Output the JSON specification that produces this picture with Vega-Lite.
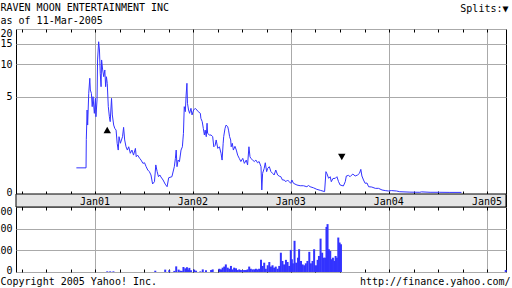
{
  "$schema": "https://vega.github.io/schema/vega-lite/v6.json",
  "width": 490,
  "height": 243,
  "autosize": {"type": "none"},
  "padding": {"left": 16, "top": 29, "right": 6, "bottom": 16},
  "background": "white",
  "config": {
    "view": {"stroke": "black", "strokeWidth": 1},
    "font": "DejaVu Sans Mono",
    "axis": {
      "labelFont": "DejaVu Sans Mono",
      "labelFontSize": 10,
      "labelColor": "black",
      "titleFont": "DejaVu Sans Mono",
      "titleFontSize": 10,
      "titleFontWeight": "normal",
      "titleColor": "black",
      "gridColor": "#aaaaaa",
      "gridOpacity": 1,
      "tickColor": "black",
      "domain": false,
      "labelOverlap": false
    }
  },
  "datasets": {
    "price": [
      {"date": "2000-10-22", "price": 0.62},
      {"date": "2000-11-27", "price": 0.62},
      {"date": "2000-11-28", "price": 1.74},
      {"date": "2000-12-01", "price": 3.71},
      {"date": "2000-12-03", "price": 2.57},
      {"date": "2000-12-07", "price": 5.41},
      {"date": "2000-12-11", "price": 7.46},
      {"date": "2000-12-13", "price": 5.81},
      {"date": "2000-12-17", "price": 5.4},
      {"date": "2000-12-20", "price": 4.01},
      {"date": "2000-12-23", "price": 5.02},
      {"date": "2000-12-28", "price": 3.43},
      {"date": "2001-01-01", "price": 4.84},
      {"date": "2001-01-03", "price": 3.16},
      {"date": "2001-01-07", "price": 4.67},
      {"date": "2001-01-09", "price": 10.86},
      {"date": "2001-01-13", "price": 15.6},
      {"date": "2001-01-16", "price": 13.25},
      {"date": "2001-01-19", "price": 8.27},
      {"date": "2001-01-22", "price": 6.24},
      {"date": "2001-01-24", "price": 10.86},
      {"date": "2001-01-28", "price": 8.86},
      {"date": "2001-02-01", "price": 7.71},
      {"date": "2001-02-05", "price": 8.86},
      {"date": "2001-02-08", "price": 6.24},
      {"date": "2001-02-11", "price": 7.7},
      {"date": "2001-02-14", "price": 6.71},
      {"date": "2001-02-18", "price": 4.01},
      {"date": "2001-02-22", "price": 3.16},
      {"date": "2001-02-25", "price": 2.8},
      {"date": "2001-03-02", "price": 4.84},
      {"date": "2001-03-05", "price": 3.3},
      {"date": "2001-03-10", "price": 2.57},
      {"date": "2001-03-14", "price": 2.36},
      {"date": "2001-03-19", "price": 2.25},
      {"date": "2001-03-23", "price": 1.55},
      {"date": "2001-03-27", "price": 1.25},
      {"date": "2001-03-30", "price": 1.88},
      {"date": "2001-04-04", "price": 1.55},
      {"date": "2001-04-08", "price": 1.71},
      {"date": "2001-04-12", "price": 1.88},
      {"date": "2001-04-16", "price": 2.42},
      {"date": "2001-04-20", "price": 1.71},
      {"date": "2001-04-25", "price": 1.39},
      {"date": "2001-04-30", "price": 1.25},
      {"date": "2001-05-05", "price": 1.39},
      {"date": "2001-05-11", "price": 1.12},
      {"date": "2001-05-17", "price": 1.25},
      {"date": "2001-05-23", "price": 1.05},
      {"date": "2001-05-30", "price": 1.32},
      {"date": "2001-06-02", "price": 0.99},
      {"date": "2001-06-07", "price": 1.05},
      {"date": "2001-06-15", "price": 0.93},
      {"date": "2001-06-20", "price": 0.87},
      {"date": "2001-06-27", "price": 0.76},
      {"date": "2001-07-03", "price": 0.78},
      {"date": "2001-07-09", "price": 0.655},
      {"date": "2001-07-15", "price": 0.557},
      {"date": "2001-07-21", "price": 0.51},
      {"date": "2001-07-27", "price": 0.42},
      {"date": "2001-08-02", "price": 0.203},
      {"date": "2001-08-09", "price": 0.255},
      {"date": "2001-08-14", "price": 0.71},
      {"date": "2001-08-19", "price": 0.51},
      {"date": "2001-08-24", "price": 0.376},
      {"date": "2001-08-29", "price": 0.42},
      {"date": "2001-09-02", "price": 0.37},
      {"date": "2001-09-10", "price": 0.295},
      {"date": "2001-09-18", "price": 0.2},
      {"date": "2001-09-25", "price": 0.144},
      {"date": "2001-10-01", "price": 0.35},
      {"date": "2001-10-13", "price": 0.376},
      {"date": "2001-10-22", "price": 0.655},
      {"date": "2001-10-26", "price": 0.93},
      {"date": "2001-10-29", "price": 1.25},
      {"date": "2001-11-01", "price": 0.655},
      {"date": "2001-11-05", "price": 0.87},
      {"date": "2001-11-10", "price": 0.815},
      {"date": "2001-11-16", "price": 1.25},
      {"date": "2001-11-21", "price": 1.39},
      {"date": "2001-11-23", "price": 1.71},
      {"date": "2001-11-25", "price": 2.06},
      {"date": "2001-11-28", "price": 4.01},
      {"date": "2001-12-02", "price": 3.57},
      {"date": "2001-12-05", "price": 5.21},
      {"date": "2001-12-08", "price": 6.71},
      {"date": "2001-12-10", "price": 4.33},
      {"date": "2001-12-14", "price": 3.71},
      {"date": "2001-12-18", "price": 3.43},
      {"date": "2001-12-23", "price": 3.86},
      {"date": "2001-12-27", "price": 3.3},
      {"date": "2002-01-02", "price": 3.71},
      {"date": "2002-01-08", "price": 3.86},
      {"date": "2002-01-14", "price": 3.71},
      {"date": "2002-01-19", "price": 3.57},
      {"date": "2002-01-27", "price": 3.43},
      {"date": "2002-01-29", "price": 3.04},
      {"date": "2002-02-03", "price": 2.8},
      {"date": "2002-02-07", "price": 2.36},
      {"date": "2002-02-11", "price": 1.97},
      {"date": "2002-02-14", "price": 2.25},
      {"date": "2002-02-18", "price": 1.88},
      {"date": "2002-02-21", "price": 2.69},
      {"date": "2002-02-23", "price": 2.06},
      {"date": "2002-03-02", "price": 1.97},
      {"date": "2002-03-08", "price": 1.97},
      {"date": "2002-03-14", "price": 1.88},
      {"date": "2002-03-18", "price": 1.39},
      {"date": "2002-03-23", "price": 1.45},
      {"date": "2002-03-27", "price": 1.71},
      {"date": "2002-04-02", "price": 1.32},
      {"date": "2002-04-08", "price": 1.39},
      {"date": "2002-04-14", "price": 1.12},
      {"date": "2002-04-18", "price": 0.87},
      {"date": "2002-04-22", "price": 1.55},
      {"date": "2002-04-24", "price": 1.88},
      {"date": "2002-04-29", "price": 2.36},
      {"date": "2002-05-03", "price": 2.57},
      {"date": "2002-05-09", "price": 2.46},
      {"date": "2002-05-12", "price": 2.25},
      {"date": "2002-05-16", "price": 1.88},
      {"date": "2002-05-20", "price": 1.71},
      {"date": "2002-05-22", "price": 1.39},
      {"date": "2002-05-26", "price": 1.55},
      {"date": "2002-05-30", "price": 1.25},
      {"date": "2002-06-05", "price": 1.41},
      {"date": "2002-06-10", "price": 1.25},
      {"date": "2002-06-15", "price": 1.05},
      {"date": "2002-06-21", "price": 0.93},
      {"date": "2002-06-27", "price": 0.82},
      {"date": "2002-07-04", "price": 0.93},
      {"date": "2002-07-10", "price": 0.76},
      {"date": "2002-07-17", "price": 0.87},
      {"date": "2002-07-22", "price": 0.71},
      {"date": "2002-07-27", "price": 1.39},
      {"date": "2002-07-31", "price": 0.99},
      {"date": "2002-08-03", "price": 0.93},
      {"date": "2002-08-10", "price": 0.87},
      {"date": "2002-08-16", "price": 0.82},
      {"date": "2002-08-22", "price": 0.87},
      {"date": "2002-08-28", "price": 0.78},
      {"date": "2002-09-03", "price": 0.82},
      {"date": "2002-09-10", "price": 0.655},
      {"date": "2002-09-13", "price": 0.077},
      {"date": "2002-09-16", "price": 0.465},
      {"date": "2002-09-22", "price": 0.607},
      {"date": "2002-09-26", "price": 0.78},
      {"date": "2002-10-01", "price": 0.51},
      {"date": "2002-10-05", "price": 0.607},
      {"date": "2002-10-11", "price": 0.655},
      {"date": "2002-10-17", "price": 0.51},
      {"date": "2002-10-23", "price": 0.465},
      {"date": "2002-10-29", "price": 0.42},
      {"date": "2002-11-04", "price": 0.557},
      {"date": "2002-11-11", "price": 0.42},
      {"date": "2002-11-17", "price": 0.39},
      {"date": "2002-11-23", "price": 0.376},
      {"date": "2002-11-29", "price": 0.295},
      {"date": "2002-12-05", "price": 0.295},
      {"date": "2002-12-12", "price": 0.255},
      {"date": "2002-12-18", "price": 0.295},
      {"date": "2002-12-24", "price": 0.255},
      {"date": "2002-12-30", "price": 0.218},
      {"date": "2003-01-03", "price": 0.295},
      {"date": "2003-01-09", "price": 0.218},
      {"date": "2003-01-22", "price": 0.18},
      {"date": "2003-02-03", "price": 0.165},
      {"date": "2003-02-15", "price": 0.165},
      {"date": "2003-02-28", "price": 0.144},
      {"date": "2003-03-06", "price": 0.17},
      {"date": "2003-03-12", "price": 0.144},
      {"date": "2003-03-25", "price": 0.12},
      {"date": "2003-04-06", "price": 0.09},
      {"date": "2003-04-19", "price": 0.07},
      {"date": "2003-05-05", "price": 0.045},
      {"date": "2003-05-10", "price": 0.51},
      {"date": "2003-05-14", "price": 0.45},
      {"date": "2003-05-20", "price": 0.336},
      {"date": "2003-05-26", "price": 0.376},
      {"date": "2003-05-30", "price": 0.255},
      {"date": "2003-06-05", "price": 0.33},
      {"date": "2003-06-14", "price": 0.336},
      {"date": "2003-06-20", "price": 0.376},
      {"date": "2003-06-26", "price": 0.255},
      {"date": "2003-07-02", "price": 0.18},
      {"date": "2003-07-14", "price": 0.16},
      {"date": "2003-07-21", "price": 0.255},
      {"date": "2003-07-25", "price": 0.394},
      {"date": "2003-08-02", "price": 0.41},
      {"date": "2003-08-08", "price": 0.376},
      {"date": "2003-08-18", "price": 0.446},
      {"date": "2003-08-27", "price": 0.394},
      {"date": "2003-09-05", "price": 0.42},
      {"date": "2003-09-12", "price": 0.465},
      {"date": "2003-09-17", "price": 0.576},
      {"date": "2003-09-21", "price": 0.394},
      {"date": "2003-09-27", "price": 0.295},
      {"date": "2003-10-03", "price": 0.218},
      {"date": "2003-10-10", "price": 0.225},
      {"date": "2003-10-16", "price": 0.144},
      {"date": "2003-10-28", "price": 0.137},
      {"date": "2003-11-10", "price": 0.11},
      {"date": "2003-11-22", "price": 0.11},
      {"date": "2003-12-05", "price": 0.077},
      {"date": "2003-12-17", "price": 0.065},
      {"date": "2003-12-29", "price": 0.057},
      {"date": "2004-01-09", "price": 0.065},
      {"date": "2004-01-28", "price": 0.057},
      {"date": "2004-02-09", "price": 0.043},
      {"date": "2004-03-18", "price": 0.035},
      {"date": "2004-04-24", "price": 0.032},
      {"date": "2004-04-30", "price": 0.04},
      {"date": "2004-06-01", "price": 0.032},
      {"date": "2004-07-07", "price": 0.032},
      {"date": "2004-08-14", "price": 0.03},
      {"date": "2004-09-26", "price": 0.03}
    ],
    "volume": [
      {"date": "2001-02-14", "volume": 3},
      {"date": "2001-02-25", "volume": 3},
      {"date": "2001-03-09", "volume": 3},
      {"date": "2001-08-12", "volume": 6},
      {"date": "2001-09-18", "volume": 11},
      {"date": "2001-10-03", "volume": 8},
      {"date": "2001-10-22", "volume": 5},
      {"date": "2001-10-29", "volume": 26},
      {"date": "2001-11-07", "volume": 11},
      {"date": "2001-11-13", "volume": 6},
      {"date": "2001-11-19", "volume": 5},
      {"date": "2001-11-25", "volume": 23},
      {"date": "2001-12-02", "volume": 17},
      {"date": "2001-12-08", "volume": 22},
      {"date": "2001-12-12", "volume": 11},
      {"date": "2001-12-17", "volume": 19},
      {"date": "2001-12-23", "volume": 8},
      {"date": "2002-01-04", "volume": 11},
      {"date": "2002-01-11", "volume": 6},
      {"date": "2002-01-27", "volume": 3},
      {"date": "2002-02-05", "volume": 12},
      {"date": "2002-02-17", "volume": 8},
      {"date": "2002-03-08", "volume": 9},
      {"date": "2002-03-14", "volume": 12},
      {"date": "2002-04-08", "volume": 15},
      {"date": "2002-04-14", "volume": 12},
      {"date": "2002-04-20", "volume": 20},
      {"date": "2002-04-26", "volume": 25},
      {"date": "2002-05-02", "volume": 35},
      {"date": "2002-05-09", "volume": 20},
      {"date": "2002-05-15", "volume": 15},
      {"date": "2002-05-21", "volume": 28},
      {"date": "2002-05-27", "volume": 12},
      {"date": "2002-06-02", "volume": 20},
      {"date": "2002-06-09", "volume": 17},
      {"date": "2002-06-15", "volume": 9},
      {"date": "2002-06-21", "volume": 12},
      {"date": "2002-06-27", "volume": 9},
      {"date": "2002-07-04", "volume": 9},
      {"date": "2002-07-10", "volume": 9},
      {"date": "2002-07-16", "volume": 9},
      {"date": "2002-07-22", "volume": 12},
      {"date": "2002-07-28", "volume": 25},
      {"date": "2002-08-03", "volume": 15},
      {"date": "2002-08-10", "volume": 12},
      {"date": "2002-08-16", "volume": 12},
      {"date": "2002-08-22", "volume": 15},
      {"date": "2002-08-28", "volume": 12},
      {"date": "2002-09-03", "volume": 15},
      {"date": "2002-09-10", "volume": 56},
      {"date": "2002-09-16", "volume": 28},
      {"date": "2002-09-22", "volume": 43},
      {"date": "2002-09-28", "volume": 15},
      {"date": "2002-10-05", "volume": 31},
      {"date": "2002-10-11", "volume": 46},
      {"date": "2002-10-17", "volume": 25},
      {"date": "2002-10-23", "volume": 31},
      {"date": "2002-10-29", "volume": 20},
      {"date": "2002-11-04", "volume": 25},
      {"date": "2002-11-11", "volume": 15},
      {"date": "2002-11-17", "volume": 28},
      {"date": "2002-11-23", "volume": 89},
      {"date": "2002-11-29", "volume": 51},
      {"date": "2002-12-05", "volume": 35},
      {"date": "2002-12-12", "volume": 56},
      {"date": "2002-12-18", "volume": 46},
      {"date": "2002-12-24", "volume": 28},
      {"date": "2002-12-30", "volume": 102},
      {"date": "2003-01-03", "volume": 59},
      {"date": "2003-01-07", "volume": 40},
      {"date": "2003-01-13", "volume": 144},
      {"date": "2003-01-19", "volume": 43},
      {"date": "2003-01-26", "volume": 66},
      {"date": "2003-01-30", "volume": 105},
      {"date": "2003-02-06", "volume": 51},
      {"date": "2003-02-12", "volume": 35},
      {"date": "2003-02-18", "volume": 31},
      {"date": "2003-02-24", "volume": 40},
      {"date": "2003-03-02", "volume": 51},
      {"date": "2003-03-09", "volume": 93},
      {"date": "2003-03-15", "volume": 40},
      {"date": "2003-03-21", "volume": 51},
      {"date": "2003-03-27", "volume": 105},
      {"date": "2003-04-03", "volume": 31},
      {"date": "2003-04-09", "volume": 56},
      {"date": "2003-04-14", "volume": 74},
      {"date": "2003-04-20", "volume": 154},
      {"date": "2003-04-26", "volume": 89},
      {"date": "2003-05-02", "volume": 66},
      {"date": "2003-05-07", "volume": 66},
      {"date": "2003-05-12", "volume": 208},
      {"date": "2003-05-16", "volume": 221},
      {"date": "2003-05-21", "volume": 105},
      {"date": "2003-05-26", "volume": 97},
      {"date": "2003-05-31", "volume": 59},
      {"date": "2003-06-05", "volume": 66},
      {"date": "2003-06-10", "volume": 51},
      {"date": "2003-06-15", "volume": 74},
      {"date": "2003-06-20", "volume": 66},
      {"date": "2003-06-25", "volume": 159},
      {"date": "2003-06-30", "volume": 136},
      {"date": "2003-07-05", "volume": 128},
      {"date": "2005-03-10", "volume": 9}
    ],
    "splits": [
      {"date": "2001-02-14", "price": 2.26, "split": "up"},
      {"date": "2003-07-08", "price": 0.98, "split": "down"}
    ]
  },
  "resolve": {
    "scale": {"y": "independent"},
    "axis": {"x": "independent", "y": "independent"}
  },
  "layer": [
    {
      "data": {"values": [{"panel": "axis band"}]},
      "mark": {"type": "rect", "fill": "#e5e5e5", "stroke": "black", "strokeWidth": 1},
      "encoding": {
        "x": {
          "datum": {"year": 2000, "month": 3, "date": 11},
          "type": "temporal",
          "scale": {"domain": [{"year": 2000, "month": 3, "date": 11}, {"year": 2005, "month": 3, "date": 11}], "nice": false, "padding": 0},
          "axis": {
            "orient": "top",
            "offset": -181,
            "tickCount": {"interval": "month", "step": 3},
            "ticks": true,
            "tickSize": 19,
            "labels": false,
            "grid": true,
            "gridOpacity": {"condition": {"test": "month(datum.value) == 0", "value": 1}, "value": 0},
            "title": "http://finance.yahoo.com/",
            "titleX": 494,
            "titleY": 74,
            "titleAlign": "right",
            "titleAnchor": "end",
            "titleBaseline": "alphabetic"
          }
        },
        "x2": {"datum": {"year": 2005, "month": 3, "date": 11}},
        "y": {
          "datum": 300,
          "type": "quantitative",
          "scale": {"domain": [0, 300], "range": [243, 178], "nice": false, "zero": true},
          "axis": null
        },
        "y2": {"datum": 360}
      }
    },
    {
      "data": {"name": "volume"},
      "mark": {"type": "bar", "color": "#3333ff", "size": 2},
      "encoding": {
        "x": {
          "field": "date",
          "type": "temporal",
          "scale": {"domain": [{"year": 2000, "month": 3, "date": 11}, {"year": 2005, "month": 3, "date": 11}], "nice": false, "padding": 0},
          "axis": {
            "orient": "top",
            "offset": -243,
            "tickCount": {"interval": "month", "step": 3},
            "ticks": true,
            "tickSize": 3,
            "labels": false,
            "grid": false,
            "title": "Copyright 2005 Yahoo! Inc.",
            "titleX": -16,
            "titleY": 12,
            "titleAlign": "left",
            "titleAnchor": "start",
            "titleBaseline": "alphabetic"
          }
        },
        "y": {
          "field": "volume",
          "type": "quantitative",
          "scale": {"domain": [0, 300], "range": [243, 178], "nice": false, "zero": true},
          "axis": {
            "orient": "left",
            "values": [0, 100, 200, 300],
            "ticks": false,
            "grid": true,
            "labelPadding": 4,
            "labelFlush": false,
            "labelOffset": {"condition": [{"test": "datum.value == 300", "value": 4}, {"test": "datum.value == 0", "value": -1.5}], "value": 0},
            "title": null
          }
        }
      }
    },
    {
      "data": {"name": "price"},
      "mark": {"type": "line", "color": "#3333ff", "strokeWidth": 1},
      "encoding": {
        "x": {
          "field": "date",
          "type": "temporal",
          "scale": {"domain": [{"year": 2000, "month": 3, "date": 11}, {"year": 2005, "month": 3, "date": 11}], "nice": false, "padding": 0},
          "axis": {
            "orient": "top",
            "offset": 0,
            "tickCount": {"interval": "month", "step": 3},
            "ticks": true,
            "tickSize": -3,
            "labels": false,
            "grid": true,
            "gridOpacity": {"condition": {"test": "month(datum.value) == 0", "value": 1}, "value": 0},
            "title": ["RAVEN MOON ENTERTAINMENT INC", "as of 11-Mar-2005"],
            "titleX": -16,
            "titleY": -19,
            "titleAlign": "left",
            "titleAnchor": "start",
            "titleBaseline": "alphabetic",
            "titleLineHeight": 13
          }
        },
        "y": {
          "field": "price",
          "type": "quantitative",
          "scale": {"type": "symlog", "constant": 1, "domain": [0, 20], "range": [165, 0], "nice": false},
          "axis": {
            "orient": "left",
            "values": [0, 5, 10, 15, 20],
            "ticks": false,
            "grid": true,
            "labelPadding": 4,
            "labelFlush": false,
            "labelOffset": {"condition": [{"test": "datum.value == 20", "value": 4}, {"test": "datum.value == 0", "value": -1.5}], "value": 0},
            "title": null
          }
        }
      }
    },
    {
      "data": {"name": "splits"},
      "mark": {"type": "point", "filled": true, "color": "black", "opacity": 1, "size": 55},
      "encoding": {
        "x": {
          "field": "date",
          "type": "temporal",
          "scale": {"domain": [{"year": 2000, "month": 3, "date": 11}, {"year": 2005, "month": 3, "date": 11}], "nice": false, "padding": 0},
          "axis": {
            "orient": "top",
            "offset": -178,
            "zindex": 1,
            "tickCount": {"interval": "month", "step": 3},
            "ticks": false,
            "labels": true,
            "labelExpr": "month(datum.value) == 0 ? 'Jan' + timeFormat(datum.value, '%y') : ''",
            "labelBaseline": "alphabetic",
            "labelPadding": 3,
            "labelFlush": false,
            "labelOffset": -1,
            "grid": false,
            "title": "Splits:▼",
            "titleX": 492,
            "titleY": -196,
            "titleAlign": "right",
            "titleAnchor": "end",
            "titleBaseline": "alphabetic"
          }
        },
        "y": {
          "field": "price",
          "type": "quantitative",
          "scale": {"type": "symlog", "constant": 1, "domain": [0, 20], "range": [165, 0], "nice": false},
          "axis": null
        },
        "shape": {
          "field": "split",
          "type": "nominal",
          "scale": {"domain": ["up", "down"], "range": ["triangle-up", "triangle-down"]},
          "legend": null
        }
      }
    }
  ]
}
